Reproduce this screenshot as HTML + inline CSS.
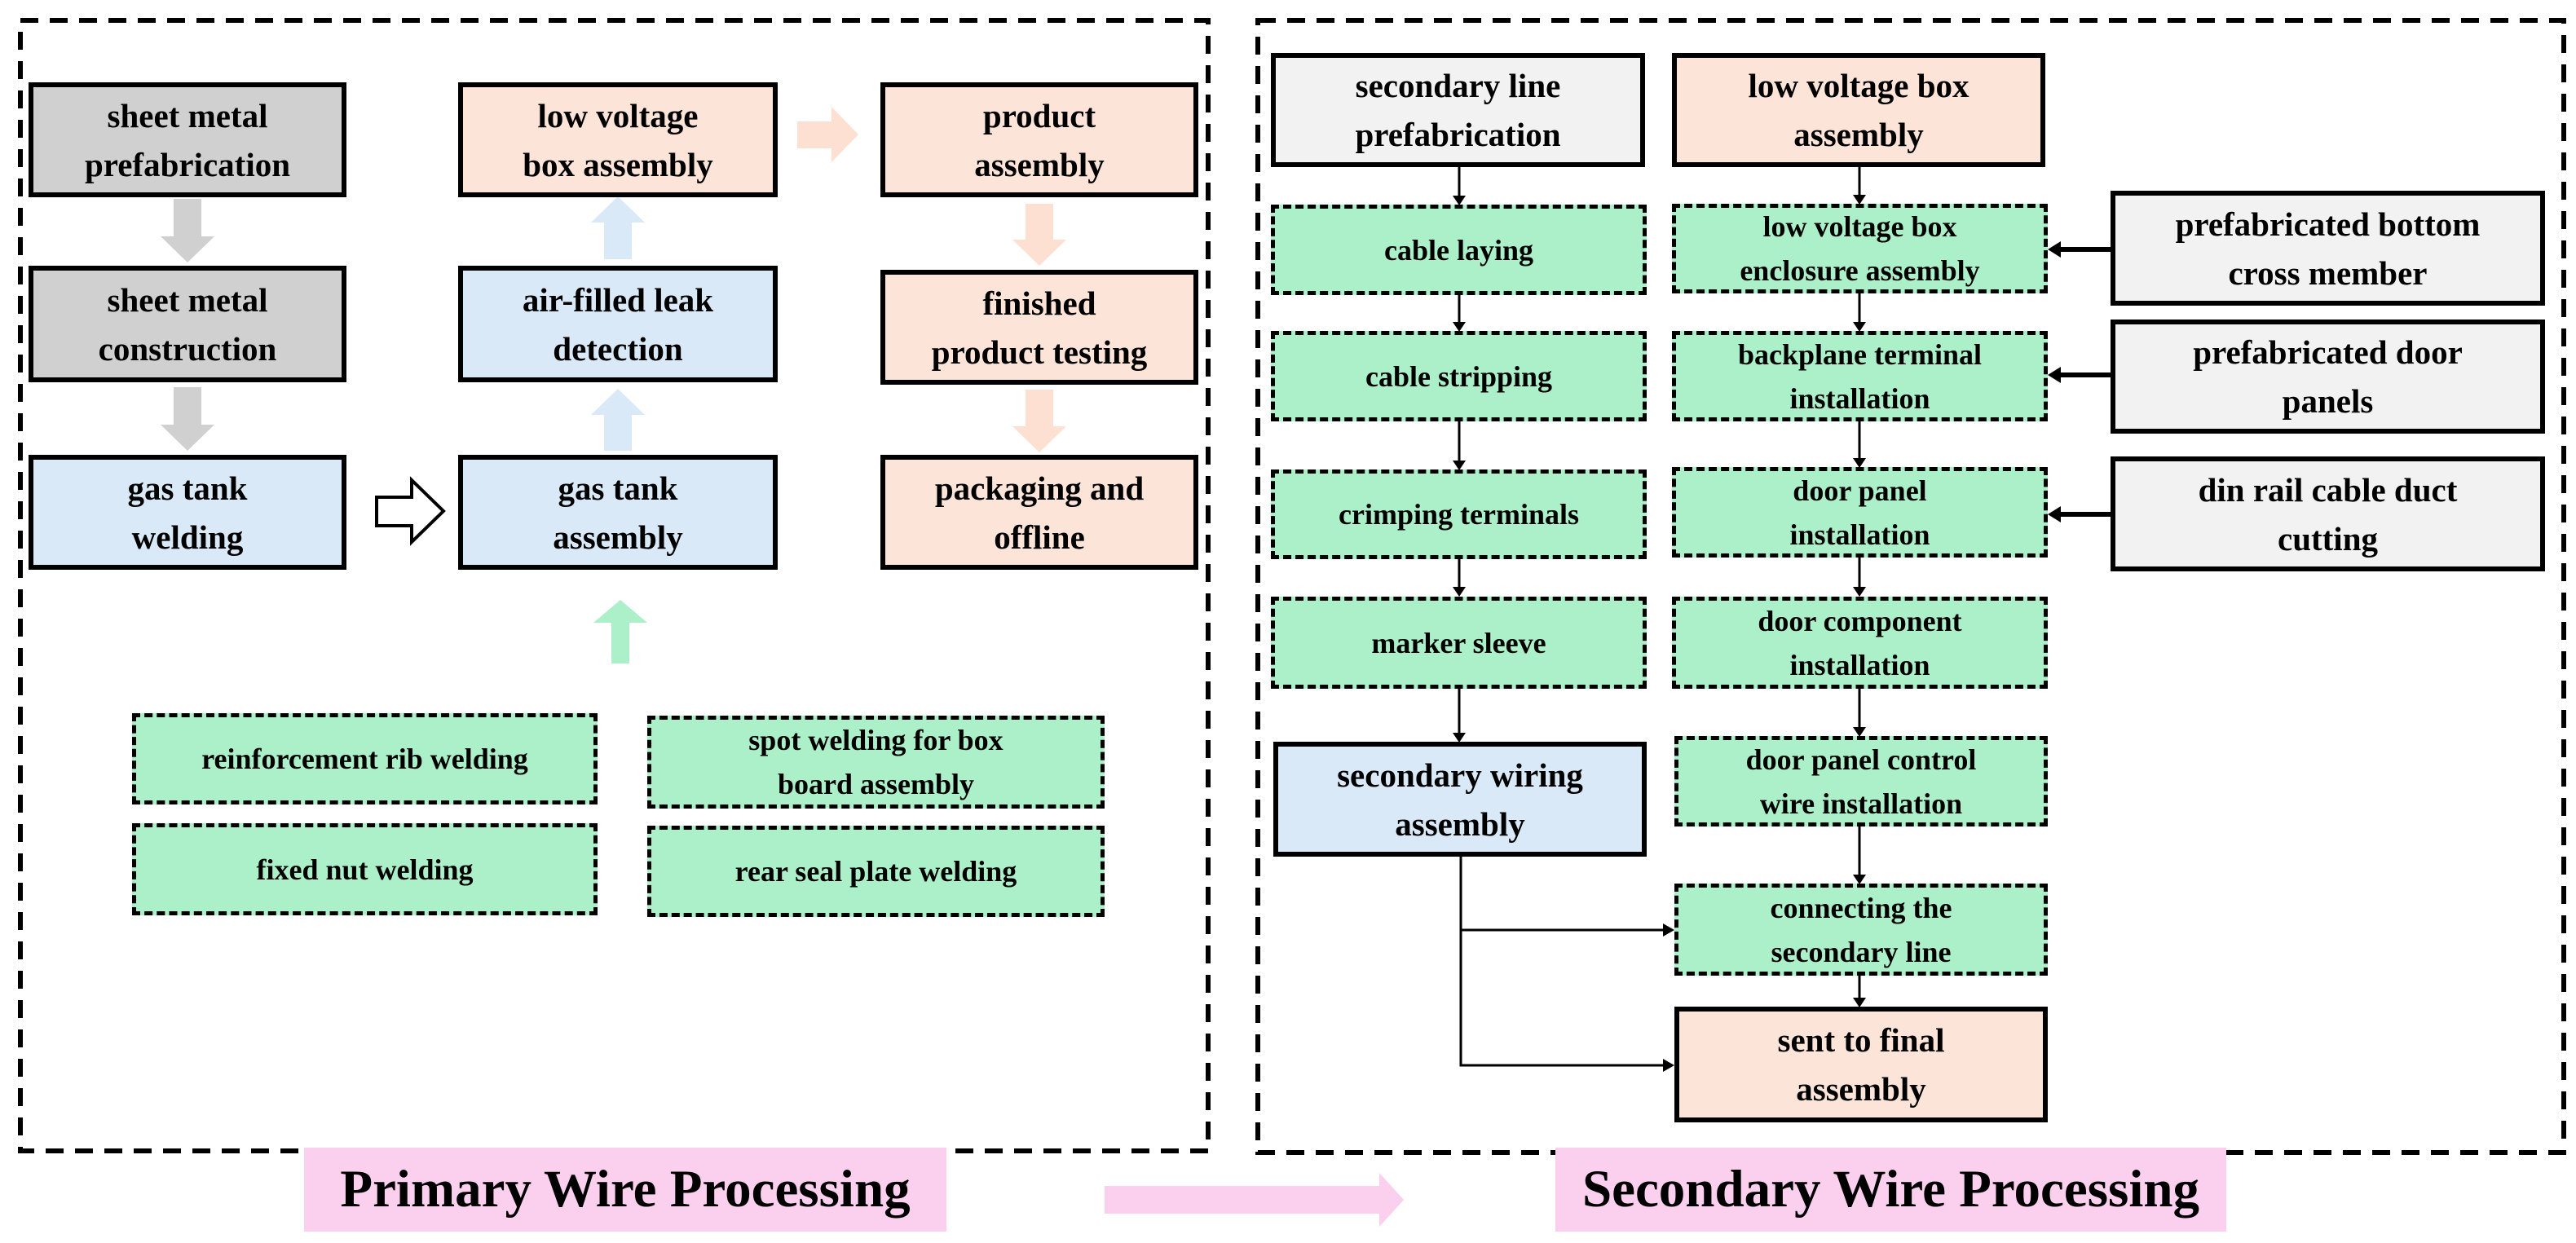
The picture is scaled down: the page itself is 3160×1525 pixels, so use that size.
<!DOCTYPE html>
<html><head><meta charset="utf-8"><style>
body{margin:0;width:3160px;height:1525px;background:#fff;position:relative;overflow:hidden;font-family:"Liberation Serif",serif;font-weight:bold;}
.b{position:absolute;box-sizing:border-box;display:flex;align-items:center;justify-content:center;text-align:center;color:#000;}
.s{border:6px solid #000;font-size:41px;line-height:60px;}
.d{border:5px dashed #000;background:#abf0c8;font-size:36px;line-height:54px;}
.gr{background:#d0d0d0}.lg{background:#f2f2f2}.bl{background:#dae9f7}.pk{background:#fde4d8}
.lab{position:absolute;background:#fbcfee;font-size:65px;display:flex;align-items:center;justify-content:center;white-space:nowrap;}
svg{position:absolute;left:0;top:0}
</style></head><body>
<svg width="3160" height="1525">
<rect x="25" y="25" width="1457" height="1387" fill="none" stroke="#000" stroke-width="6" stroke-dasharray="22,14"/>
<rect x="1543" y="25" width="1602" height="1389" fill="none" stroke="#000" stroke-width="6" stroke-dasharray="22,14"/>
<g fill="#d0d0d0">
<polygon points="213,244 247,244 247,290 263,290 230,322 197,290 213,290"/>
<polygon points="213,475 247,475 247,521 263,521 230,553 197,521 213,521"/>
</g>
<g fill="#dae9f7">
<polygon points="758,241 791,273 775,273 775,318 741,318 741,273 725,273"/>
<polygon points="758,477 791,509 775,509 775,553 741,553 741,509 725,509"/>
</g>
<g fill="#fde0d2">
<polygon points="978,149 1020,149 1020,131 1053,165 1020,199 1020,182 978,182"/>
<polygon points="1258,250 1292,250 1292,294 1308,294 1275,326 1242,294 1258,294"/>
<polygon points="1258,478 1292,478 1292,523 1308,523 1275,555 1242,523 1258,523"/>
</g>
<polygon points="462,610 505,610 505,589 544,627 505,665 505,645 462,645" fill="#fff" stroke="#000" stroke-width="4"/>
<polygon points="761,736 794,764 772,764 772,814 750,814 750,764 728,764" fill="#abf0c8"/>
<polygon points="1355,1455 1692,1455 1692,1439 1722,1472 1692,1505 1692,1489 1355,1489" fill="#fbcfee"/>
<g stroke="#000" stroke-width="3" fill="none">
<line x1="1790" y1="205" x2="1790" y2="240"/><line x1="1790" y1="362" x2="1790" y2="395"/>
<line x1="1790" y1="517" x2="1790" y2="565"/><line x1="1790" y1="686" x2="1790" y2="720"/>
<line x1="1790" y1="845" x2="1790" y2="899"/>
<line x1="2281" y1="205" x2="2281" y2="239"/><line x1="2281" y1="360" x2="2281" y2="395"/>
<line x1="2281" y1="517" x2="2281" y2="562"/><line x1="2281" y1="684" x2="2281" y2="720"/>
<line x1="2281" y1="845" x2="2281" y2="892"/><line x1="2281" y1="1014" x2="2281" y2="1073"/>
<line x1="2281" y1="1197" x2="2281" y2="1224"/>
<polyline points="1792,1051 1792,1307 2040,1307"/>
<line x1="1792" y1="1141" x2="2040" y2="1141"/>
</g>
<g stroke="#000" stroke-width="6">
<line x1="2589" y1="306" x2="2525" y2="306"/><line x1="2589" y1="460" x2="2525" y2="460"/><line x1="2589" y1="631" x2="2525" y2="631"/>
</g>
<g fill="#000">
<polygon points="1782,240 1798,240 1790,252"/><polygon points="1782,395 1798,395 1790,407"/>
<polygon points="1782,565 1798,565 1790,577"/><polygon points="1782,720 1798,720 1790,732"/>
<polygon points="1782,899 1798,899 1790,911"/>
<polygon points="2273,239 2289,239 2281,251"/><polygon points="2273,395 2289,395 2281,407"/>
<polygon points="2273,562 2289,562 2281,574"/><polygon points="2273,720 2289,720 2281,732"/>
<polygon points="2273,892 2289,892 2281,904"/><polygon points="2273,1073 2289,1073 2281,1085"/>
<polygon points="2273,1224 2289,1224 2281,1236"/>
<polygon points="2040,1133 2040,1149 2054,1141"/><polygon points="2040,1299 2040,1315 2054,1307"/>
<polygon points="2528,296 2528,316 2512,306"/><polygon points="2528,450 2528,470 2512,460"/><polygon points="2528,621 2528,641 2512,631"/>
</g>
</svg>
<div class="b s gr" style="left:35px;top:101px;width:390px;height:141px">sheet metal<br>prefabrication</div>
<div class="b s gr" style="left:35px;top:326px;width:390px;height:143px">sheet metal<br>construction</div>
<div class="b s bl" style="left:35px;top:558px;width:390px;height:141px">gas tank<br>welding</div>
<div class="b s pk" style="left:562px;top:101px;width:392px;height:141px">low voltage<br>box assembly</div>
<div class="b s bl" style="left:562px;top:326px;width:392px;height:143px">air-filled leak<br>detection</div>
<div class="b s bl" style="left:562px;top:558px;width:392px;height:141px">gas tank<br>assembly</div>
<div class="b s pk" style="left:1080px;top:101px;width:390px;height:141px">product<br>assembly</div>
<div class="b s pk" style="left:1080px;top:331px;width:390px;height:141px">finished<br>product testing</div>
<div class="b s pk" style="left:1080px;top:558px;width:390px;height:141px">packaging and<br>offline</div>
<div class="b d" style="left:162px;top:875px;width:571px;height:112px">reinforcement rib welding</div>
<div class="b d" style="left:794px;top:878px;width:561px;height:114px">spot welding for box<br>board assembly</div>
<div class="b d" style="left:162px;top:1010px;width:571px;height:113px">fixed nut welding</div>
<div class="b d" style="left:794px;top:1013px;width:561px;height:112px">rear seal plate welding</div>
<div class="b s lg" style="left:1559px;top:65px;width:459px;height:140px">secondary line<br>prefabrication</div>
<div class="b s pk" style="left:2051px;top:65px;width:458px;height:140px">low voltage box<br>assembly</div>
<div class="b d" style="left:1559px;top:251px;width:461px;height:111px">cable laying</div>
<div class="b d" style="left:2051px;top:250px;width:461px;height:110px">low voltage box<br>enclosure assembly</div>
<div class="b d" style="left:1559px;top:406px;width:461px;height:111px">cable stripping</div>
<div class="b d" style="left:2051px;top:406px;width:461px;height:111px">backplane terminal<br>installation</div>
<div class="b d" style="left:1559px;top:576px;width:461px;height:110px">crimping terminals</div>
<div class="b d" style="left:2051px;top:573px;width:461px;height:111px">door panel<br>installation</div>
<div class="b d" style="left:1559px;top:732px;width:461px;height:113px">marker sleeve</div>
<div class="b d" style="left:2051px;top:732px;width:461px;height:113px">door component<br>installation</div>
<div class="b s bl" style="left:1562px;top:910px;width:458px;height:141px">secondary wiring<br>assembly</div>
<div class="b d" style="left:2054px;top:903px;width:458px;height:111px">door panel control<br>wire installation</div>
<div class="b d" style="left:2054px;top:1084px;width:458px;height:113px">connecting the<br>secondary line</div>
<div class="b s pk" style="left:2054px;top:1235px;width:458px;height:142px">sent to final<br>assembly</div>
<div class="b s lg" style="left:2589px;top:234px;width:533px;height:141px">prefabricated bottom<br>cross member</div>
<div class="b s lg" style="left:2589px;top:392px;width:533px;height:140px">prefabricated door<br>panels</div>
<div class="b s lg" style="left:2589px;top:560px;width:533px;height:141px">din rail cable duct<br>cutting</div>
<div class="lab" style="left:373px;top:1408px;width:788px;height:103px">Primary Wire Processing</div>
<div class="lab" style="left:1908px;top:1408px;width:823px;height:103px">Secondary Wire Processing</div>
</body></html>
